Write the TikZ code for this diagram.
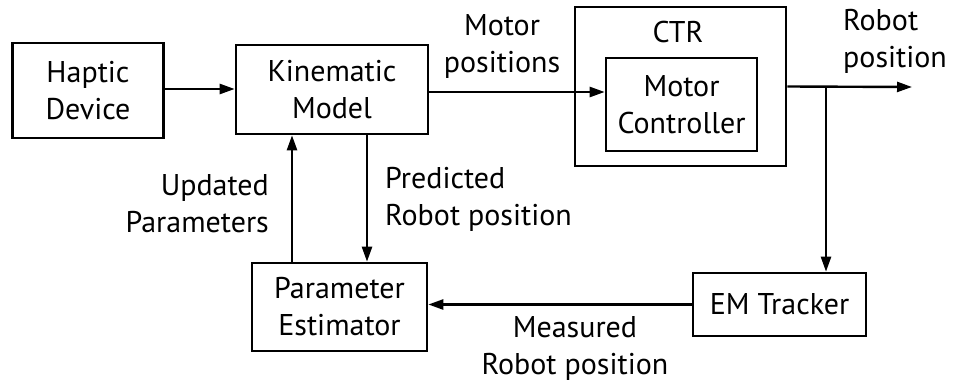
\documentclass[tikz,border=0pt]{standalone}
\usepackage{fontspec}
\setmainfont{PT Sans}
\usepackage{tikz}
\usetikzlibrary{arrows.meta}

\tikzset{
  block/.style={draw, line width=2.6pt, inner sep=0pt, align=center},
  arr/.style={line width=2.4pt, -{Triangle[length=15pt,width=10pt]}},
  lbl/.style={inner sep=0pt}
}

\begin{document}
\begin{tikzpicture}[x=1pt,y=-1pt,font=\fontsize{30}{37}\selectfont]
\useasboundingbox (0,0) rectangle (955,390);
% blocks
\node[block, minimum width=151pt, minimum height=95pt] (haptic) at (88,90.5) {Haptic\\Device};
\node[block, minimum width=192pt, minimum height=89pt] (kin) at (332,89.5) {Kinematic\\Model};
\node[block, minimum width=211pt, minimum height=159pt] (ctr) at (680.5,86.5) {};
\node[block, minimum width=151pt, minimum height=93pt] (mc) at (681.5,104.5) {Motor\\Controller};
\node[lbl] (ctrlbl) at (678,32) {CTR};
\node[block, minimum width=173pt, minimum height=63pt] (em) at (779.5,304.5) {EM Tracker};
\node[block, minimum width=175pt, minimum height=88pt] (pe) at (339.5,307) {Parameter\\Estimator};
% free ends
\coordinate (out) at (912,87);
\coordinate (br) at (826,87);
% connectors
\draw[arr] ([yshift=1.5pt]haptic.east) -- ([yshift=1.5pt]haptic.east -| kin.west);
\draw[arr] ([yshift=-2.5pt]kin.east) -- ([yshift=-2.5pt]kin.east -| mc.west);
\draw[arr] (ctr.east) -- (out);
\draw[arr] (br) -- (br |- em.north);
\draw[arr] (em.west) -- (em.west -| pe.east);
\draw[arr] ([xshift=-47.5pt]pe.north) -- ([xshift=-47.5pt]pe.north |- kin.south);
\draw[arr] ([xshift=35pt]kin.south) -- ([xshift=35pt]kin.south |- pe.north);
% labels
\node[lbl, align=center] (motpos) at (502,46.5) {Motor\\positions};
\node[lbl, align=left, anchor=west] (robpos) at (843,41.5) {Robot\\position};
\node[lbl, align=right, anchor=east] (upd) at (269,203.5) {Updated\\Parameters};
\node[lbl, align=left, anchor=west] (pred) at (385,199) {Predicted\\Robot position};
\node[lbl, align=center] (meas) at (575,348.5) {Measured\\Robot position};
\end{tikzpicture}
\end{document}
